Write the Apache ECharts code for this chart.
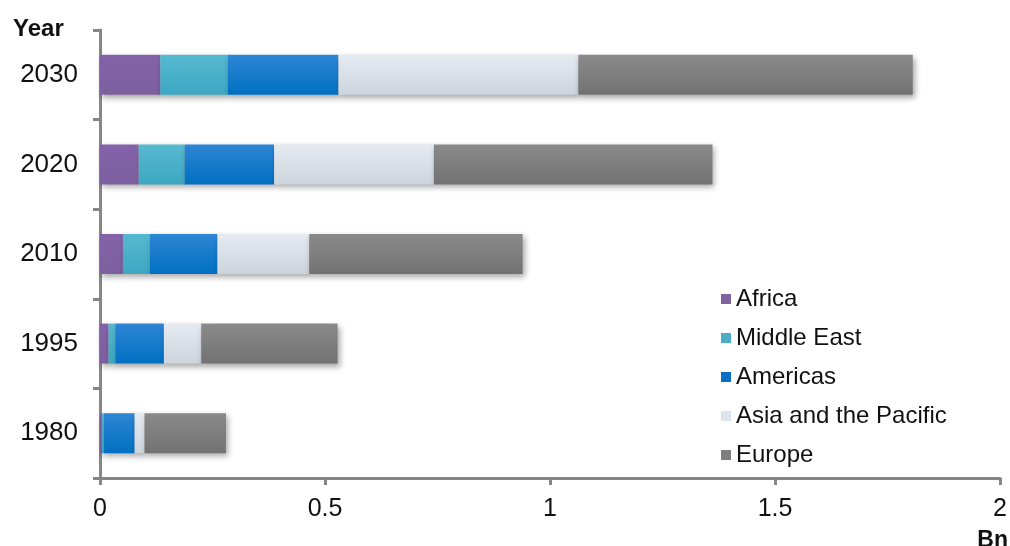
<!DOCTYPE html>
<html>
<head>
<meta charset="utf-8">
<script src="https://cdn.jsdelivr.net/npm/echarts@6/dist/echarts.min.js"></script>
<style>html,body{margin:0;padding:0;background:#fff}#c{width:1010px;height:546px}</style>
</head>
<body>
<div id="c"></div>
<script>
const years = ['1980', '1995', '2010', '2020', '2030'];
const seriesNames = ['Africa', 'Middle East', 'Americas', 'Asia and the Pacific', 'Europe'];
const africa = [0.004, 0.019, 0.051, 0.086, 0.134];
const middleEast = [0.004, 0.015, 0.060, 0.102, 0.150];
const americas = [0.069, 0.108, 0.150, 0.199, 0.246];
const asiaPacific = [0.022, 0.083, 0.204, 0.355, 0.533];
const europe = [0.181, 0.303, 0.474, 0.619, 0.743];
const xTicks = [0, 0.5, 1, 1.5, 2];

const values = [africa, middleEast, americas, asiaPacific, europe];
const colorsTop = ['#8462a8', '#56b9d0', '#2e86d4', '#e6ebf2', '#8a8a8a'];
const colorsBot = ['#7d60a0', '#3da7c2', '#0070c2', '#cdd4dc', '#727272'];
const legendColors = ['#8064a2', '#4bacc6', '#0a70c4', '#dde3ea', '#7f7f7f'];

const chart = echarts.init(document.getElementById('c'), null, {renderer: 'canvas'});
const font = 'Liberation Sans, Arial, sans-serif';

chart.setOption({
  animation: false,
  backgroundColor: '#fff',
  textStyle: {fontFamily: font},
  grid: {left: 100, right: 6, top: 30, bottom: 68, containLabel: false},
  graphic: [
    {type: 'text', left: 13, top: 17, style: {text: 'Year', font: 'bold 24px Liberation Sans, Arial, sans-serif', fill: '#111'}},
    {type: 'text', right: 2, top: 529, style: {text: 'Bn', font: 'bold 23px Liberation Sans, Arial, sans-serif', fill: '#111'}}
  ],
  legend: {
    orient: 'vertical',
    left: 716,
    top: 282,
    itemWidth: 10,
    itemHeight: 10,
    itemGap: 15,
    icon: 'rect',
    textStyle: {fontSize: 24, color: '#111', fontFamily: font},
    data: seriesNames.map((n, i) => ({name: n, itemStyle: {color: legendColors[i], shadowBlur: 0}}))
  },
  xAxis: {
    type: 'value',
    min: 0, max: 2, interval: 0.5,
    axisLine: {show: true, lineStyle: {color: '#868686', width: 3}},
    axisTick: {show: true, length: 7, lineStyle: {color: '#868686', width: 3}},
    splitLine: {show: false},
    axisLabel: {fontSize: 25, color: '#111', margin: 19, fontFamily: font,
      formatter: v => xTicks.includes(v) ? String(v) : ''}
  },
  yAxis: {
    type: 'category',
    data: years,
    axisLine: {show: true, lineStyle: {color: '#868686', width: 3}},
    axisTick: {show: true, length: 7, lineStyle: {color: '#868686', width: 3}},
    axisLabel: {fontSize: 26, color: '#111', margin: 22, fontFamily: font, padding: [4, 0, 0, 0]}
  },
  series: values.map((arr, i) => ({
    name: seriesNames[i],
    type: 'bar',
    stack: 'total',
    barWidth: 40,
    data: arr,
    itemStyle: {
      color: new echarts.graphic.LinearGradient(0, 0, 0, 1, [
        {offset: 0, color: colorsTop[i]},
        {offset: 1, color: colorsBot[i]}
      ]),
      shadowColor: 'rgba(0,0,0,0.35)',
      shadowBlur: 6,
      shadowOffsetX: 2,
      shadowOffsetY: 3
    }
  }))
});
</script>
</body>
</html>
